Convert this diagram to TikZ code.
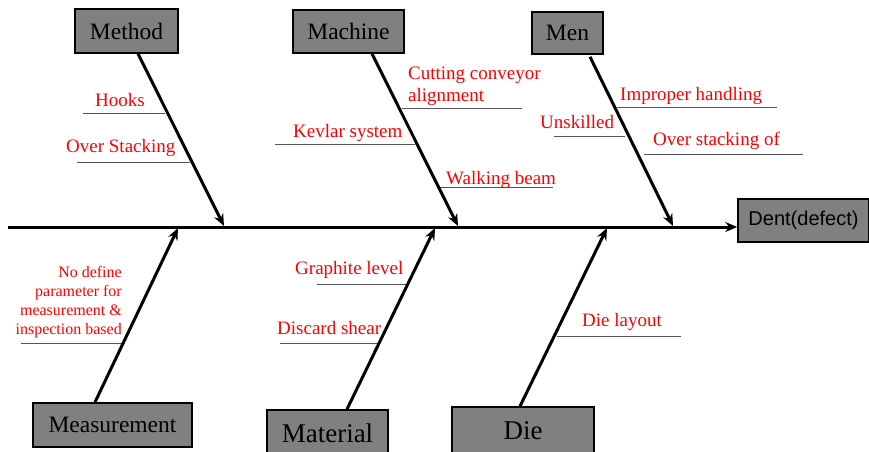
\documentclass[tikz,border=0pt]{standalone}
\usepackage{fontspec}
\setmainfont{Liberation Serif}
\newfontfamily\arialf{Liberation Sans}
\usetikzlibrary{arrows.meta}
\definecolor{boxgray}{HTML}{808080}
\definecolor{ulgray}{HTML}{555555}
\begin{document}
\begin{tikzpicture}[x=1pt,y=-1pt,
  catbox/.style={draw=black, line width=1.6pt, fill=boxgray, inner sep=0pt, text=black},
  topf/.style={font=\fontsize{23.5}{26}\selectfont},
  bigf/.style={font=\fontsize{27}{30}\selectfont},
  lab/.style={text=red, font=\fontsize{19}{22}\selectfont, inner sep=0pt, anchor=base west},
  uline/.style={draw=ulgray, line width=1pt},
  branch/.style={line width=3pt, -{Stealth[length=12pt,width=10pt,inset=4pt]}}]
\useasboundingbox (0,0) rectangle (869,451);
\clip (0,0) rectangle (869,451);
% category boxes
\node[catbox, topf, minimum width=103, minimum height=44] (method) at (126.5,31) {Method};
\node[catbox, topf, minimum width=111, minimum height=43] (machine) at (348.5,31.5) {Machine};
\node[catbox, topf, minimum width=71, minimum height=42] (men) at (567.5,33) {Men};
\node[catbox, topf, minimum width=159, minimum height=44] (meas) at (112.5,425) {Measurement};
\node[catbox, bigf, minimum width=121, minimum height=46] (mat) at (327.5,433) {Material};
\node[catbox, bigf, minimum width=142, minimum height=48] (die) at (523,431) {Die};
\node[catbox, font=\arialf\fontsize{20}{24}\selectfont, minimum width=131, minimum height=43] (dent) at (803.5,220.5) {Dent(defect)};
% spine
\coordinate (s0) at (8,227);
\coordinate (jmeth) at (224,226);
\coordinate (jmach) at (458,226);
\coordinate (jmen) at (673,226);
\coordinate (jmeas) at (178,228);
\coordinate (jmat) at (435,228);
\coordinate (jdie) at (607,228);
% underlines
\draw[uline] (83,113) -- (165,113);
\draw[uline] (77,162) -- (190,162);
\draw[uline] (402,108) -- (522,108);
\draw[uline] (275,144) -- (415,144);
\draw[uline] (437,187) -- (553,187);
\draw[uline] (617,107) -- (777,107);
\draw[uline] (554,136) -- (625,136);
\draw[uline] (644,154) -- (803,154);
\draw[uline] (21,343) -- (122,343);
\draw[uline] (317,284) -- (407,284);
\draw[uline] (280,343) -- (378,343);
\draw[uline] (557,336) -- (681,336);
% arrows
\draw[branch] (s0) -- (s0 -| dent.west);
\draw[branch] ([xshift=11.5pt]method.south) -- (jmeth);
\draw[branch] ([xshift=23.5pt]machine.south) -- (jmach);
\draw[branch] ([xshift=22.5pt,yshift=-2pt]men.south) -- (jmen);
\draw[branch] ([xshift=-17.5pt]meas.north) -- (jmeas);
\draw[branch] ([xshift=19.5pt]mat.north) -- (jmat);
\draw[branch] ([xshift=-3pt]die.north) -- (jdie);
% labels
\node[lab] (hooks) at (95,106) {Hooks};
\node[lab] (ovst) at (66,152) {Over Stacking};
\node[lab, anchor=north west, align=left] (cut) at (408,67) {Cutting conveyor\\alignment};
\node[lab] (kev) at (293,137) {Kevlar system};
\node[lab] (walk) at (446,184) {Walking beam};
\node[lab] (impr) at (620,100) {Improper handling};
\node[lab] (unsk) at (540,128) {Unskilled};
\node[lab] (ovsto) at (653,145) {Over stacking of};
\node[lab, anchor=east, align=right, font=\fontsize{16}{19}\selectfont] (nodef) at (122,302) {No define\\parameter for\\measurement \&\\inspection based};
\node[lab] (graph) at (295,274) {Graphite level};
\node[lab] (disc) at (277,334) {Discard shear};
\node[lab] (dlay) at (582,326) {Die layout};
\end{tikzpicture}
\end{document}
